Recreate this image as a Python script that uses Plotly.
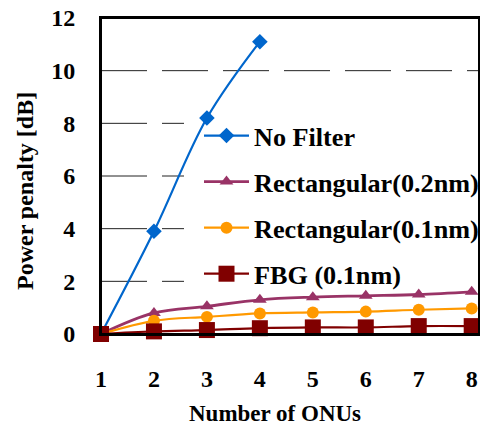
import plotly.graph_objects as go

onus = [1, 2, 3, 4, 5, 6, 7, 8]
onus_nofilter = [1, 2, 3, 4]
no_filter = [0, 3.9, 8.2, 11.1]
rect_02 = [0, 0.8, 1.05, 1.3, 1.4, 1.45, 1.5, 1.6]
rect_01 = [0, 0.5, 0.65, 0.78, 0.82, 0.85, 0.92, 0.97]
fbg_01 = [0, 0.1, 0.15, 0.22, 0.25, 0.25, 0.3, 0.3]
y_ticks = [0, 2, 4, 6, 8, 10, 12]

FONT = "Liberation Serif"

W, H = 480, 427
PL, PR, PT, PB = 101, 479, 18, 334          # plot area in window pixels
L, R, T, B = PL, W - PR, PT, H - PB
pw, ph = PR - PL, PB - PT

def px_x(x):
    return (x - PL) / pw

def px_y(y):
    return (PB - y) / ph

fig = go.Figure()
series = [
    ("No Filter", onus_nofilter, no_filter, "#0066CC", "diamond", 12, 2.2),
    ("Rectangular(0.2nm)", onus, rect_02, "#993366", "triangle-up", 12, 2.8),
    ("Rectangular(0.1nm)", onus, rect_01, "#FF9900", "circle", 12, 2.2),
    ("FBG (0.1nm)", onus, fbg_01, "#800000", "square", 16, 2.2),
]
for i, (name, xs, ys, col, sym, ms, lw) in enumerate(series):
    fig.add_trace(go.Scatter(
        x=xs, y=ys, name=name, mode="lines+markers",
        line=dict(color=col, width=lw, shape="spline"),
        marker=dict(symbol=sym, size=ms, color=col),
        cliponaxis=False, legendgroup=f"g{i}",
    ))

# dashed horizontal grid lines (stopping where the legend sits)
legend_left = px_x(184)
for yv in y_ticks[1:-1]:
    fig.add_shape(type="line", xref="paper", yref="y",
                  x0=0, x1=(1 if yv >= 10 else legend_left), y0=yv, y1=yv,
                  line=dict(color="#222222", width=1, dash="46px,15px"),
                  layer="below")

# plot frame
fig.add_shape(type="rect", xref="paper", yref="paper", x0=0, x1=1, y0=0, y1=1,
              line=dict(color="black", width=2), layer="above")

fig.update_layout(
    width=W, height=H,
    margin=dict(l=L, r=R, t=T, b=B, autoexpand=False),
    plot_bgcolor="white", paper_bgcolor="white",
    font=dict(family=FONT, color="black"),
    showlegend=True,
    legend=dict(
        x=px_x(199), y=px_y(112), xanchor="left", yanchor="top",
        bgcolor="rgba(0,0,0,0)", font=dict(family=FONT, size=26.2, weight="bold"),
        tracegroupgap=9, itemwidth=45,
    ),
    xaxis=dict(
        range=[1, 8.138], tickmode="array", tickvals=onus,
        showgrid=False, zeroline=False,
        showline=True, linecolor="black", linewidth=2, mirror=True,
        ticks="", ticklabelstandoff=22,
        tickfont=dict(family=FONT, size=24, weight="bold"),
    ),
    yaxis=dict(
        range=[0, 12], tickmode="array", tickvals=y_ticks,
        showgrid=False, zeroline=False,
        showline=True, linecolor="black", linewidth=2, mirror=True,
        ticks="", ticklabelstandoff=19,
        tickfont=dict(family=FONT, size=24, weight="bold"),
    ),
    annotations=[
        dict(text="Power penalty [dB]", textangle=-90, xref="paper", yref="paper",
             x=px_x(25), y=px_y(191), xanchor="center", yanchor="middle",
             showarrow=False, font=dict(family=FONT, size=24, weight="bold")),
        dict(text="Number of ONUs", xref="paper", yref="paper",
             x=px_x(275), y=px_y(413), xanchor="center", yanchor="middle",
             showarrow=False, font=dict(family=FONT, size=23, weight="bold")),
    ],
)

fig.write_html(
    "out.html",
    config={"displayModeBar": False},
    post_script="document.body.style.margin='0';document.body.style.overflow='hidden';",
)
